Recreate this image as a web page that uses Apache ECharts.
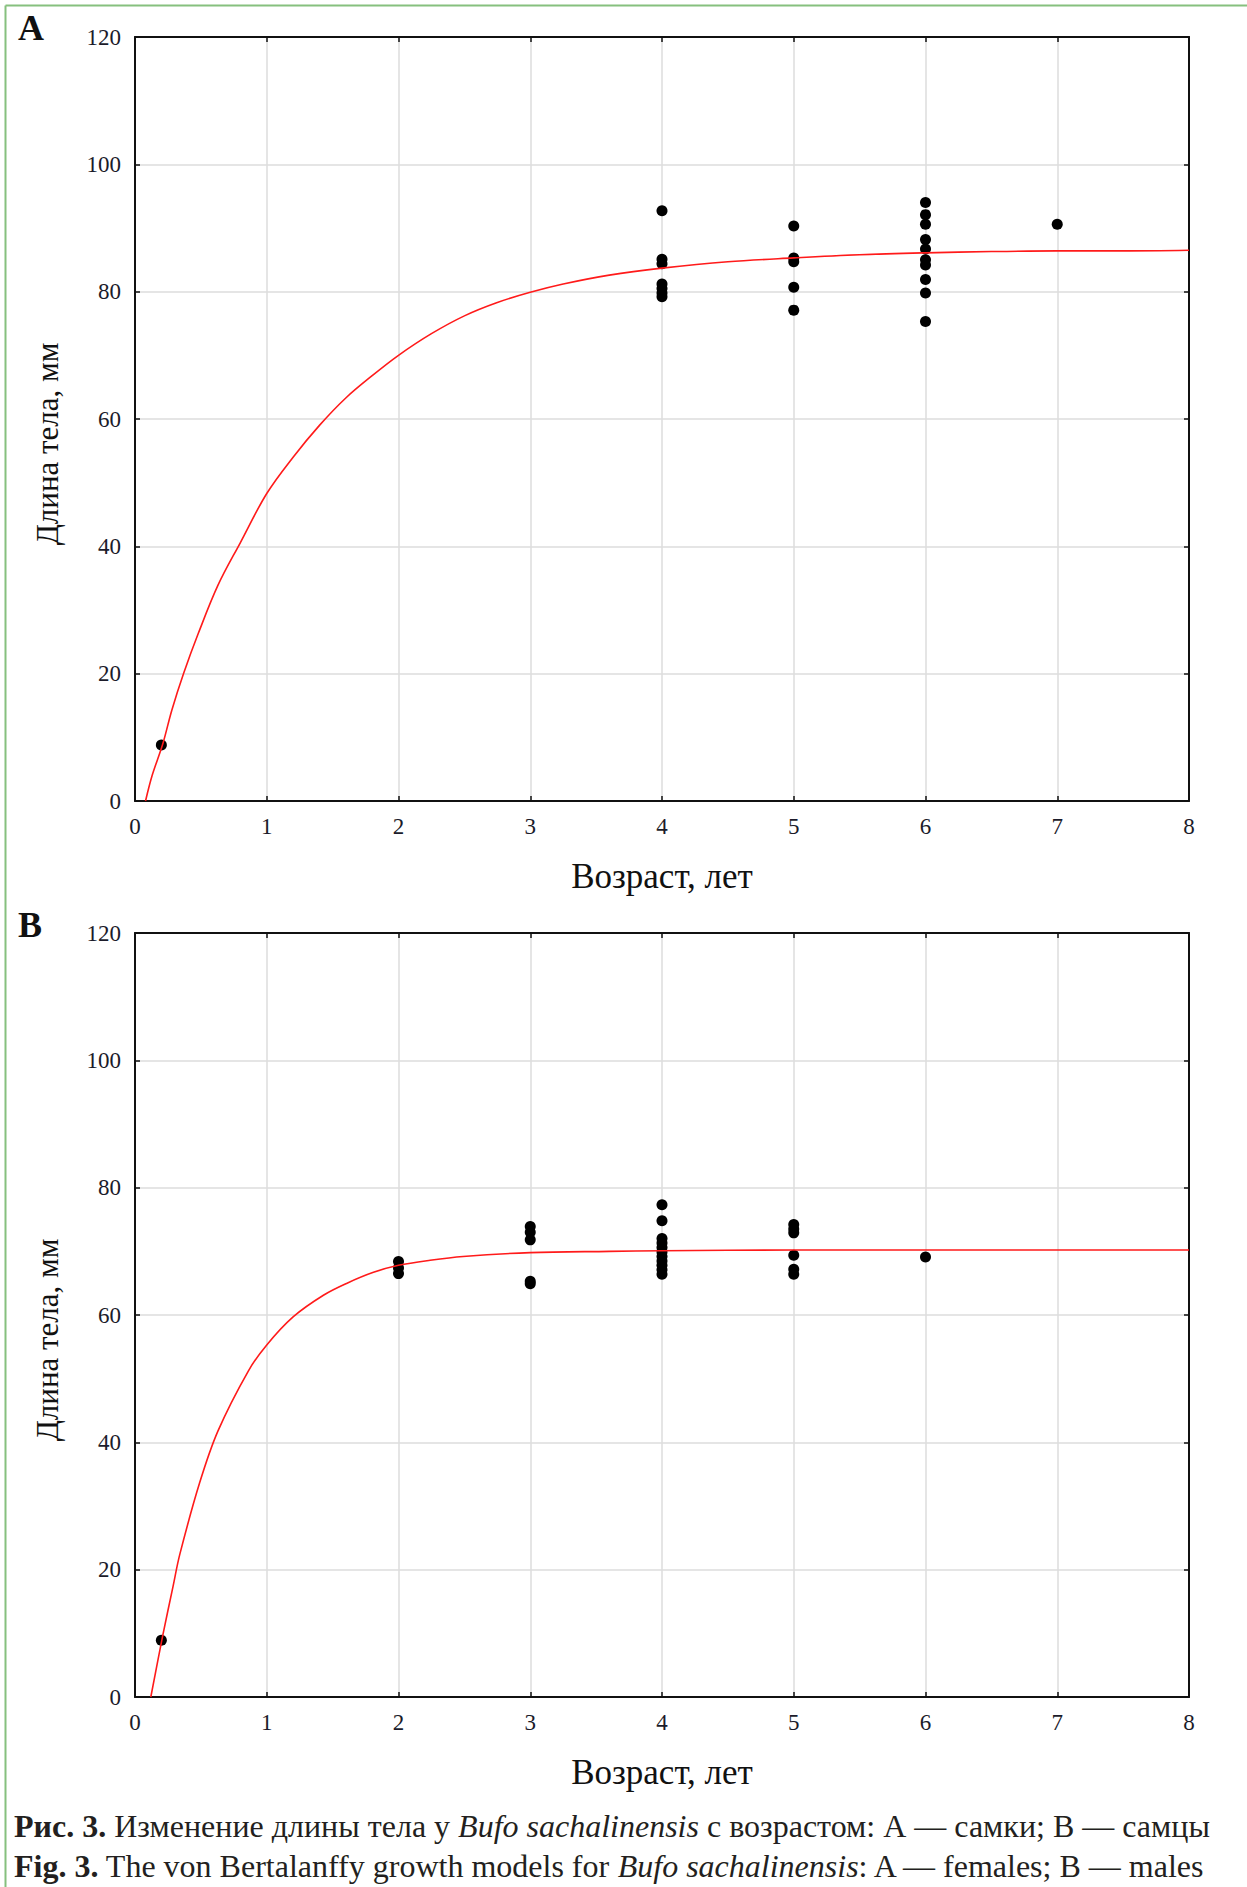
<!DOCTYPE html>
<html>
<head>
<meta charset="utf-8">
<script src="https://cdn.jsdelivr.net/npm/echarts@6/dist/echarts.min.js"></script>
<style>
  html, body { margin: 0; padding: 0; background: #fff; }
  #chart { width: 1247px; height: 1887px; }
</style>
</head>
<body>
<div id="chart"></div>
<script>
// A — самки (females): observed points
var agesA = [0.2, 4, 4, 4, 4, 4, 4, 4, 5, 5, 5, 5, 5, 6, 6, 6, 6, 6, 6, 6, 6, 6, 6, 7]
var lengthsA = [8.8, 92.7, 85.1, 84.4, 81.2, 80.5, 79.8, 79.2, 90.3, 85.3, 84.7, 80.7, 77.1,
  94.0, 92.1, 90.6, 88.2, 86.7, 85.0, 84.2, 81.9, 79.8, 75.3, 90.6]
// A — fitted growth curve
var curveAgeA = [0.08, 0.13, 0.21, 0.28, 0.37, 0.48, 0.63, 0.8, 1.0, 1.2, 1.4, 1.6, 1.8, 2.0,
  2.25, 2.5, 2.75, 3.0, 3.25, 3.6, 4.0, 4.5, 5.0, 5.5, 6.0, 6.5, 7.0, 7.5, 8.0]
var curveLenA = [0, 4.0, 8.9, 14.3, 20.1, 26.3, 33.9, 40.6, 48.3, 54.0, 59.0, 63.3, 66.8, 70.0,
  73.4, 76.2, 78.3, 79.9, 81.2, 82.6, 83.7, 84.7, 85.3, 85.8, 86.1, 86.3, 86.4, 86.4, 86.5]

// B — самцы (males): observed points
var agesB = [0.2, 2, 2, 2, 3, 3, 3, 3, 3, 4, 4, 4, 4, 4, 4, 4, 4, 4, 4, 4, 5, 5, 5, 5, 5, 5, 6]
var lengthsB = [8.9, 68.4, 67.4, 66.5, 73.9, 73.0, 71.8, 65.3, 64.9,
  77.3, 74.8, 72.0, 71.3, 70.6, 69.9, 69.2, 68.5, 67.8, 67.1, 66.4,
  74.2, 73.5, 72.9, 69.4, 67.2, 66.4, 69.1]
// B — fitted growth curve
var curveAgeB = [0.12, 0.21, 0.29, 0.34, 0.49, 0.63, 0.86, 1.0, 1.2, 1.43, 1.61, 1.81, 2.0,
  2.24, 2.49, 3.0, 3.6, 4.0, 5.0, 6.0, 7.0, 8.0]
var curveLenB = [0, 9.6, 17.5, 22.4, 33.6, 41.8, 51.2, 55.3, 59.7, 63.1, 65.0, 66.7, 67.8,
  68.6, 69.2, 69.8, 70.0, 70.1, 70.2, 70.2, 70.2, 70.2]

var xTitle = 'Возраст, лет'
var yTitle = 'Длина тела, мм'
var serif = 'Liberation Serif'

function pairs (xs, ys) {
  return xs.map(function (x, i) { return [x, ys[i]] })
}

function xAxes (grid) {
  var common = {
    gridIndex: grid, type: 'value', min: 0, max: 8, interval: 1,
    axisLine: { onZero: false, lineStyle: { color: '#111', width: 2 } },
    axisTick: { inside: true, length: 5, lineStyle: { color: '#111', width: 1.5 } }
  }
  return [
    Object.assign({}, common, {
      position: 'bottom',
      axisLabel: { margin: 14, color: '#1b1b2a', fontFamily: serif, fontSize: 23 },
      splitLine: { show: true, lineStyle: { color: '#dcdcdc', width: 1.5 } },
      name: xTitle, nameLocation: 'middle', nameGap: 58,
      nameTextStyle: { color: '#111', fontFamily: serif, fontSize: 35 }
    }),
    Object.assign({}, common, {
      position: 'top', axisLabel: { show: false }, splitLine: { show: false }
    })
  ]
}

function yAxes (grid) {
  var common = {
    gridIndex: grid, type: 'value', min: 0, max: 120, interval: 20,
    axisLine: { onZero: false, lineStyle: { color: '#111', width: 2 } },
    axisTick: { inside: true, length: 5, lineStyle: { color: '#111', width: 1.5 } }
  }
  return [
    Object.assign({}, common, {
      position: 'left',
      axisLabel: { margin: 14, color: '#1b1b2a', fontFamily: serif, fontSize: 23 },
      splitLine: { show: true, lineStyle: { color: '#dcdcdc', width: 1.5 } },
      name: yTitle, nameLocation: 'middle', nameGap: 72,
      nameTextStyle: { color: '#111', fontFamily: serif, fontSize: 31, padding: [0, 50, 0, 0] }
    }),
    Object.assign({}, common, {
      position: 'right', axisLabel: { show: false }, splitLine: { show: false }
    })
  ]
}

function seriesFor (xi, yi, ages, lens, cAges, cLens) {
  return [{
    type: 'scatter', xAxisIndex: xi, yAxisIndex: yi,
    symbol: 'circle', symbolSize: 11,
    itemStyle: { color: '#000', opacity: 1 },
    data: pairs(ages, lens), z: 3
  }, {
    type: 'line', xAxisIndex: xi, yAxisIndex: yi,
    showSymbol: false, smooth: 0.35,
    lineStyle: { color: '#ff1a1a', width: 1.6 },
    data: pairs(cAges, cLens), z: 4
  }]
}

function caption (top, text) {
  return {
    type: 'text', left: 14, top: top,
    style: {
      text: text, fontFamily: serif, fontSize: 32, fill: '#231f20',
      rich: {
        b: { fontFamily: serif, fontSize: 32, fontWeight: 'bold', fill: '#231f20' },
        i: { fontFamily: serif, fontSize: 32, fontStyle: 'italic', fill: '#231f20' }
      }
    }
  }
}

var myChart = echarts.init(document.getElementById('chart'), null, { renderer: 'svg' })
myChart.setOption({
  backgroundColor: '#fff',
  animation: false,
  grid: [
    { left: 135, top: 37, width: 1054, height: 764 },
    { left: 135, top: 933, width: 1054, height: 764 }
  ],
  xAxis: xAxes(0).concat(xAxes(1)),
  yAxis: yAxes(0).concat(yAxes(1)),
  series: seriesFor(0, 0, agesA, lengthsA, curveAgeA, curveLenA)
    .concat(seriesFor(2, 2, agesB, lengthsB, curveAgeB, curveLenB)),
  graphic: [
    // green frame of the figure
    { type: 'line', shape: { x1: 5.5, y1: 5.5, x2: 1247, y2: 5.5 }, style: { stroke: '#86c07e', lineWidth: 2 } },
    { type: 'line', shape: { x1: 5.5, y1: 5.5, x2: 5.5, y2: 1887 }, style: { stroke: '#86c07e', lineWidth: 2 } },
    // panel letters
    { type: 'text', left: 18, top: 10, style: { text: 'A', font: 'bold 36px Liberation Serif', fill: '#111' } },
    { type: 'text', left: 18, top: 907, style: { text: 'B', font: 'bold 36px Liberation Serif', fill: '#111' } },
    caption(1810, '{b|Рис. 3.} Изменение длины тела у {i|Bufo sachalinensis} с возрастом: А — самки; В — самцы'),
    caption(1850, '{b|Fig. 3.} The von Bertalanffy growth models for {i|Bufo sachalinensis}: A — females; B — males')
  ]
})
window.addEventListener('resize', function () {
  myChart.resize()
}, false)
</script>
</body>
</html>
